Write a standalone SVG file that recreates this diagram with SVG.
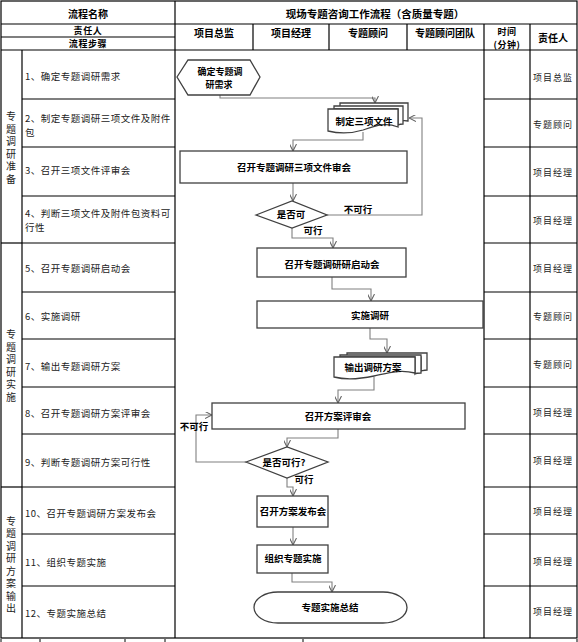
<svg xmlns="http://www.w3.org/2000/svg" width="578" height="642" viewBox="0 0 578 642">
<defs>
<style>
.grid{stroke:#000;stroke-width:1.2;fill:none}
.t{font-family:"Noto Sans CJK SC","Liberation Sans",sans-serif;fill:#000}
.hd{font-size:10px;font-weight:bold;text-anchor:middle;dominant-baseline:central}
.hs{font-size:9px;letter-spacing:0.6px;font-weight:bold;text-anchor:middle;dominant-baseline:central}
.ttl{font-size:10.5px;font-weight:bold;text-anchor:middle;dominant-baseline:central}
.st{font-size:9.5px;letter-spacing:0.5px;fill:#222;dominant-baseline:central}
.cat{font-size:10px;text-anchor:middle;fill:#222;writing-mode:vertical-rl;letter-spacing:2.5px}
.rp{font-size:9px;letter-spacing:1px;text-anchor:middle;dominant-baseline:central;fill:#222}
.fl{font-size:9.5px;font-weight:bold;text-anchor:middle;dominant-baseline:central}
.lb{font-size:9.5px;font-weight:bold;text-anchor:middle;dominant-baseline:central}
.shape{fill:#fff;stroke:#404040;stroke-width:1.3}
.conn{fill:none;stroke:#808080;stroke-width:1.1}
</style>
<marker id="arr" viewBox="0 0 10 10" refX="10" refY="5" markerWidth="7" markerHeight="7" markerUnits="userSpaceOnUse" orient="auto">
<path d="M0,0 L10,5 L0,10" fill="none" stroke="#606060" stroke-width="1.5"/>
</marker>
</defs>
<rect x="0" y="0" width="578" height="642" fill="#fff"/>

<g id="table">
<rect class="grid" x="1" y="1" width="576" height="637"/>
<line class="grid" x1="1" y1="24" x2="577" y2="24"/>
<line class="grid" x1="1" y1="37" x2="175" y2="37"/>
<line class="grid" x1="1" y1="50" x2="577" y2="50"/>
<line class="grid" x1="175" y1="1" x2="175" y2="638"/>
<line class="grid" x1="253" y1="24" x2="253" y2="50"/>
<line class="grid" x1="329" y1="24" x2="329" y2="50"/>
<line class="grid" x1="407" y1="24" x2="407" y2="50"/>
<line class="grid" x1="484" y1="24" x2="484" y2="638"/>
<line class="grid" x1="530" y1="24" x2="530" y2="638"/>
<line class="grid" x1="22" y1="50" x2="22" y2="638"/>
<line class="grid" x1="1" y1="243" x2="22" y2="243"/>
<line class="grid" x1="1" y1="487" x2="22" y2="487"/>
<g>
<line class="grid" x1="22" y1="99" x2="175" y2="99"/>
<line class="grid" x1="22" y1="147" x2="175" y2="147"/>
<line class="grid" x1="22" y1="196" x2="175" y2="196"/>
<line class="grid" x1="22" y1="243" x2="175" y2="243"/>
<line class="grid" x1="22" y1="292" x2="175" y2="292"/>
<line class="grid" x1="22" y1="339" x2="175" y2="339"/>
<line class="grid" x1="22" y1="387" x2="175" y2="387"/>
<line class="grid" x1="22" y1="434" x2="175" y2="434"/>
<line class="grid" x1="22" y1="487" x2="175" y2="487"/>
<line class="grid" x1="22" y1="534" x2="175" y2="534"/>
<line class="grid" x1="22" y1="586" x2="175" y2="586"/>
<line class="grid" x1="484" y1="99" x2="577" y2="99"/>
<line class="grid" x1="484" y1="147" x2="577" y2="147"/>
<line class="grid" x1="484" y1="196" x2="577" y2="196"/>
<line class="grid" x1="484" y1="243" x2="577" y2="243"/>
<line class="grid" x1="484" y1="292" x2="577" y2="292"/>
<line class="grid" x1="484" y1="339" x2="577" y2="339"/>
<line class="grid" x1="484" y1="387" x2="577" y2="387"/>
<line class="grid" x1="484" y1="434" x2="577" y2="434"/>
<line class="grid" x1="484" y1="487" x2="577" y2="487"/>
<line class="grid" x1="484" y1="534" x2="577" y2="534"/>
<line class="grid" x1="484" y1="586" x2="577" y2="586"/>
</g>
<g stroke="#000" stroke-width="1">
<line x1="1" y1="639" x2="1" y2="642"/>
<line x1="40" y1="639" x2="40" y2="642"/>
<line x1="125" y1="639" x2="125" y2="642"/>
<line x1="165" y1="639" x2="165" y2="642"/>
<line x1="303" y1="639" x2="303" y2="642"/>
<line x1="577" y1="639" x2="577" y2="642"/>
</g>
</g>

<g id="header-text" class="t">
<text class="hd" x="88" y="13">流程名称</text>
<text class="ttl" x="375" y="13">现场专题咨询工作流程（含质量专题）</text>
<text class="hs" x="88" y="30.5">责任人</text>
<text class="hs" x="88" y="43.5">流程步骤</text>
<text class="hd" x="214" y="32">项目总监</text>
<text class="hd" x="291" y="32">项目经理</text>
<text class="hd" x="368" y="32">专题顾问</text>
<text class="hd" x="445" y="32">专题顾问团队</text>
<text class="hs" x="507" y="30.5"><tspan x="507" y="30.5">时间</tspan><tspan x="507" y="44">(分钟)</tspan></text>
<text class="hd" x="553" y="37">责任人</text>
</g>

<g id="categories" class="t">
<text class="cat" x="11" y="149">专题调研准备</text>
<text class="cat" x="11" y="367">专题调研实施</text>
<text class="cat" x="11" y="566">专题调研方案输出</text>
</g>

<g id="steps" class="t">
<text class="st" x="25" y="76">1、确定专题调研需求</text>
<text class="st" x="25" y="118"><tspan x="25" y="118">2、制定专题调研三项文件及附件</tspan><tspan x="25" y="132">包</tspan></text>
<text class="st" x="25" y="170">3、召开三项文件评审会</text>
<text class="st" x="25" y="213"><tspan x="25" y="213">4、判断三项文件及附件包资料可</tspan><tspan x="25" y="227">行性</tspan></text>
<text class="st" x="25" y="268">5、召开专题调研启动会</text>
<text class="st" x="25" y="316">6、实施调研</text>
<text class="st" x="25" y="366">7、输出专题调研方案</text>
<text class="st" x="25" y="413">8、召开专题调研方案评审会</text>
<text class="st" x="25" y="462">9、判断专题调研方案可行性</text>
<text class="st" x="25" y="513">10、召开专题调研方案发布会</text>
<text class="st" x="25" y="562">11、组织专题实施</text>
<text class="st" x="25" y="613">12、专题实施总结</text>
</g>

<g id="responsible" class="t">
<text class="rp" x="553" y="77">项目总监</text>
<text class="rp" x="553" y="124">专题顾问</text>
<text class="rp" x="553" y="172">项目经理</text>
<text class="rp" x="553" y="220">项目经理</text>
<text class="rp" x="553" y="268">项目经理</text>
<text class="rp" x="553" y="316">专题顾问</text>
<text class="rp" x="553" y="364">专题顾问</text>
<text class="rp" x="553" y="412">项目经理</text>
<text class="rp" x="553" y="460">项目经理</text>
<text class="rp" x="553" y="511">项目经理</text>
<text class="rp" x="553" y="561">项目经理</text>
<text class="rp" x="553" y="611">项目经理</text>
</g>

<g id="connectors">
<path class="conn" d="M220,95 V98 H375 V103" marker-end="url(#arr)"/>
<path class="conn" d="M363,132 V140 H293 V151" marker-end="url(#arr)"/>
<path class="conn" d="M293,183 V201" marker-end="url(#arr)"/>
<path class="conn" d="M327,215 H422 V118 H409" marker-end="url(#arr)"/>
<path class="conn" d="M292,228 V238 H333 V248" marker-end="url(#arr)"/>
<path class="conn" d="M332,277 V289 H371 V301" marker-end="url(#arr)"/>
<path class="conn" d="M370,328 V339 H387 V353" marker-end="url(#arr)"/>
<path class="conn" d="M374,377 V390 H338 V403" marker-end="url(#arr)"/>
<path class="conn" d="M338,429 V438 H287 V447" marker-end="url(#arr)"/>
<path class="conn" d="M246,462 H196 V415 H212" marker-end="url(#arr)"/>
<path class="conn" d="M287,478 V487 H293 V496" marker-end="url(#arr)"/>
<path class="conn" d="M293,527 V545" marker-end="url(#arr)"/>
<path class="conn" d="M292,573 V582 H332 V592" marker-end="url(#arr)"/>
<g class="t">
<text class="lb" x="358" y="209">不可行</text>
<text class="lb" x="313" y="230">可行</text>
<text class="lb" x="194" y="426">不可行</text>
<text class="lb" x="304" y="479">可行</text>
</g>
</g>

<g id="n1">
<polygon class="shape" points="177,77 188,60 250,60 260,77 250,95 188,95"/>
<text class="t fl" x="220" y="71" style="font-size:9px"><tspan x="220" y="70.5">确定专题调</tspan><tspan x="219" y="84">研需求</tspan></text>
</g>

<g id="n2">
<path class="shape" d="M340,103 H408 V121 C403,120 400,121 398,122 V109 H340 Z"/>
<path class="shape" d="M334,106 H403 V124 C401,124 400,124 398,125 V109 H334 Z"/>
<path class="shape" d="M328,109 H398 V127 C385,122 375,126 363,130 C350,134 340,134 328,131 Z"/>
<text class="t fl" x="364" y="121">制定三项文件</text>
</g>

<g id="n3">
<rect class="shape" x="180" y="151" width="227" height="32"/>
<text class="t fl" x="294" y="167">召开专题调研三项文件审会</text>
</g>

<g id="n4">
<polygon class="shape" points="256,215 292,201 327,215 292,228"/>
<text class="t fl" x="291" y="214">是否可</text>
</g>

<g id="n5">
<rect class="shape" x="257" y="248" width="149" height="29"/>
<text class="t fl" x="332" y="264">召开专题调研研启动会</text>
</g>

<g id="n6">
<rect class="shape" x="257" y="301" width="226" height="27"/>
<text class="t fl" x="370" y="315">实施调研</text>
</g>

<g id="n7">
<path class="shape" d="M347,353 H427 V370 C424,370 422,371 421,371 V357 H347 Z"/>
<path class="shape" d="M340,355 H421 V373 C418,373 416,373 415,374 V357 H340 Z"/>
<path class="shape" d="M334,357 H415 V373 C400,369 388,373 374,376 C360,379 346,380 334,377 Z"/>
<text class="t fl" x="373" y="367">输出调研方案</text>
</g>

<g id="n8">
<rect class="shape" x="212" y="403" width="253" height="26"/>
<text class="t fl" x="338" y="416">召开方案评审会</text>
</g>

<g id="n9">
<polygon class="shape" points="246,462 287,447 328,462 287,478"/>
<text class="t fl" x="284" y="462">是否可行?</text>
</g>

<g id="n10">
<rect class="shape" x="257" y="496" width="71" height="31"/>
<text class="t fl" x="293" y="511">召开方案发布会</text>
</g>

<g id="n11">
<rect class="shape" x="257" y="545" width="71" height="28"/>
<text class="t fl" x="293" y="558">组织专题实施</text>
</g>

<g id="n12">
<rect class="shape" x="254" y="592" width="153" height="31" rx="24" ry="15.5"/>
<text class="t fl" x="330" y="607">专题实施总结</text>
</g>
</svg>
